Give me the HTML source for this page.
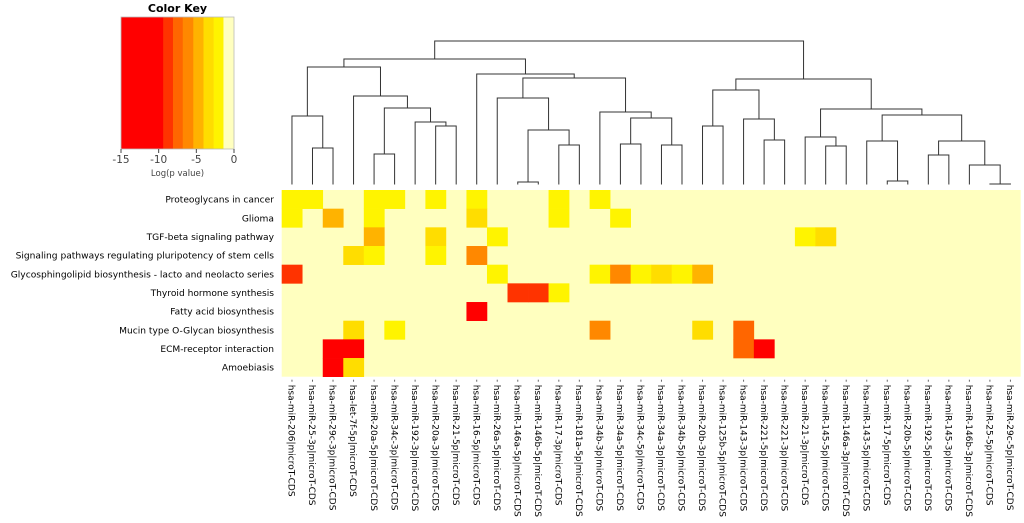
<!DOCTYPE html>
<html><head><meta charset="utf-8"><style>
body{margin:0;background:#fff;width:1024px;height:523px;overflow:hidden}
svg{display:block;font-family:"DejaVu Sans","Liberation Sans",sans-serif}
</style></head><body>
<svg id="chart" width="1024" height="523"></svg>
<script>
const cols=["hsa-miR-206|microT-CDS","hsa-miR-25-3p|microT-CDS","hsa-miR-29c-3p|microT-CDS","hsa-let-7f-5p|microT-CDS","hsa-miR-20a-5p|microT-CDS","hsa-miR-34c-3p|microT-CDS","hsa-miR-192-3p|microT-CDS","hsa-miR-20a-3p|microT-CDS","hsa-miR-21-5p|microT-CDS","hsa-miR-16-5p|microT-CDS","hsa-miR-26a-5p|microT-CDS","hsa-miR-146a-5p|microT-CDS","hsa-miR-146b-5p|microT-CDS","hsa-miR-17-3p|microT-CDS","hsa-miR-181a-5p|microT-CDS","hsa-miR-34b-3p|microT-CDS","hsa-miR-34a-5p|microT-CDS","hsa-miR-34c-5p|microT-CDS","hsa-miR-34a-3p|microT-CDS","hsa-miR-34b-5p|microT-CDS","hsa-miR-20b-3p|microT-CDS","hsa-miR-125b-5p|microT-CDS","hsa-miR-143-3p|microT-CDS","hsa-miR-221-5p|microT-CDS","hsa-miR-221-3p|microT-CDS","hsa-miR-21-3p|microT-CDS","hsa-miR-145-5p|microT-CDS","hsa-miR-146a-3p|microT-CDS","hsa-miR-143-5p|microT-CDS","hsa-miR-17-5p|microT-CDS","hsa-miR-20b-5p|microT-CDS","hsa-miR-192-5p|microT-CDS","hsa-miR-145-3p|microT-CDS","hsa-miR-146b-3p|microT-CDS","hsa-miR-25-5p|microT-CDS","hsa-miR-29c-5p|microT-CDS"];
const rows=["Proteoglycans in cancer","Glioma","TGF-beta signaling pathway","Signaling pathways regulating pluripotency of stem cells","Glycosphingolipid biosynthesis - lacto and neolacto series","Thyroid hormone synthesis","Fatty acid biosynthesis","Mucin type O-Glycan biosynthesis","ECM-receptor interaction","Amoebiasis"];
// non-zero cells: [row, col, log p]
const cells=[[0,0,-2],[0,1,-2],[0,4,-2],[0,5,-2],[0,7,-2],[0,9,-2],[0,13,-2],[0,15,-2],
[1,0,-2],[1,2,-4.7],[1,4,-2],[1,9,-3.5],[1,13,-2],[1,16,-2],
[2,4,-4.7],[2,7,-3.5],[2,10,-2],[2,25,-2],[2,26,-3.5],
[3,3,-3.5],[3,4,-2],[3,7,-2],[3,9,-6],
[4,0,-8.5],[4,10,-2],[4,15,-2],[4,16,-6],[4,17,-2],[4,18,-3.5],[4,19,-2],[4,20,-4.7],
[5,11,-8.5],[5,12,-8.5],[5,13,-2],
[6,9,-12],
[7,3,-3.5],[7,5,-2],[7,15,-6],[7,20,-3.5],[7,22,-7.5],
[8,2,-12],[8,3,-12],[8,22,-7.5],[8,23,-12],
[9,2,-12],[9,3,-3.5]];
const breaks=[-15,-9.4,-8.1,-6.8,-5.4,-4.05,-2.7,-1.4,0];
const colors=["#ff0000","#ff3300","#ff6600","#ff8800","#ffb300","#ffdd00","#fff400","#ffffbf"];
const keyTicks=[-15,-10,-5,0];
// dendrogram: leaves 0..35, merges [a,b,heightY] ; ids >=36 refer to merges
const merges=[[1,2,148],[0,36,116],[4,5,154],[7,8,126],[6,39,122],[38,40,108],[3,41,96],[37,42,67],
[11,12,182],[13,14,145],[44,45,130],[10,46,98],[16,17,144],[18,19,145],[48,49,118],[15,50,112],[47,51,78],[9,52,74],[43,53,59],
[20,21,126],[23,24,140],[22,56,119],[55,57,90],[26,27,146],[25,59,137],[29,30,181],[28,61,141],[31,32,155],[34,35,184],[33,64,165],[63,65,141],[62,66,115],[60,67,109],[58,68,79],[54,69,41]];

const NS="http://www.w3.org/2000/svg";
const svg=document.getElementById('chart');
function mk(t,a,p){const e=document.createElementNS(NS,t);for(const k in a)e.setAttribute(k,a[k]);(p||svg).appendChild(e);return e;}
const X0=281.7,X1=1020.7,Y0=190,Y1=376.7;
const cw=(X1-X0)/cols.length,rh=(Y1-Y0)/rows.length;
const xc=i=>X0+cw*(i+0.5);
function colorOf(v){for(let i=0;i<colors.length;i++){if(v<breaks[i+1])return colors[i];}return colors[colors.length-1];}

const bg=mk('rect',{x:X0,y:Y0,width:X1-X0,height:Y1-Y0,fill:colors[7]});


cells.forEach(c=>{
  const r=mk('rect',{x:X0+c[1]*cw,y:Y0+c[0]*rh,width:cw+0.3,height:rh+0.3,fill:colorOf(c[2])});
  
  
});
rows.forEach((t,i)=>{
  const e=mk('text',{x:274,y:Y0+rh*(i+0.5)+3.3,'text-anchor':'end','font-size':'9.1',fill:'#000'});
  e.textContent=t;
  
  
});
cols.forEach((t,i)=>{
  const x=xc(i);
  mk('line',{x1:x,x2:x,y1:Y1+3,y2:Y1+5,stroke:'#666','stroke-width':1});
  const e=mk('text',{x:0,y:0,transform:`translate(${x-3.3},${Y1+8}) rotate(90)`,'font-size':'9',fill:'#000'});
  e.textContent=t;
  
  
});
const g=mk('g',{stroke:'#333','stroke-width':1,fill:'none'});


const nodes=cols.map((c,i)=>({x:xc(i),y:184.5}));
merges.forEach(m=>{
  const a=nodes[m[0]],b=nodes[m[1]],h=m[2];
  mk('path',{d:`M${a.x},${a.y}V${h}H${b.x}V${b.y}`},g);
  nodes.push({x:(a.x+b.x)/2,y:h});
});
const KX0=121,KX1=234,KY0=17,KY1=149;
const kx=v=>KX0+(v+15)/15*(KX1-KX0);
const kg=mk('g',{});


colors.forEach((c,i)=>{
  const r=mk('rect',{x:kx(breaks[i]),y:KY0,width:kx(breaks[i+1])-kx(breaks[i])+0.3,height:KY1-KY0,fill:c},kg);
  
  
});
mk('rect',{x:KX0,y:KY0,width:KX1-KX0,height:KY1-KY0,fill:'none',stroke:'#bbb','stroke-width':0.8},kg);
keyTicks.forEach(v=>{
  mk('line',{x1:kx(v),x2:kx(v),y1:KY1,y2:KY1+4,stroke:'#444'},kg);
  const t=mk('text',{x:kx(v),y:KY1+14,'text-anchor':'middle','font-size':'10.5',fill:'#444'},kg);
  t.textContent=String(v);
});
const kt=mk('text',{x:(KX0+KX1)/2,y:12,'text-anchor':'middle','font-size':'11','font-weight':'bold',fill:'#000'},kg);
kt.textContent='Color Key';


const kl=mk('text',{x:(KX0+KX1)/2,y:176,'text-anchor':'middle','font-size':'8.5',fill:'#444'},kg);
kl.textContent='Log(p value)';


</script>
</body></html>
